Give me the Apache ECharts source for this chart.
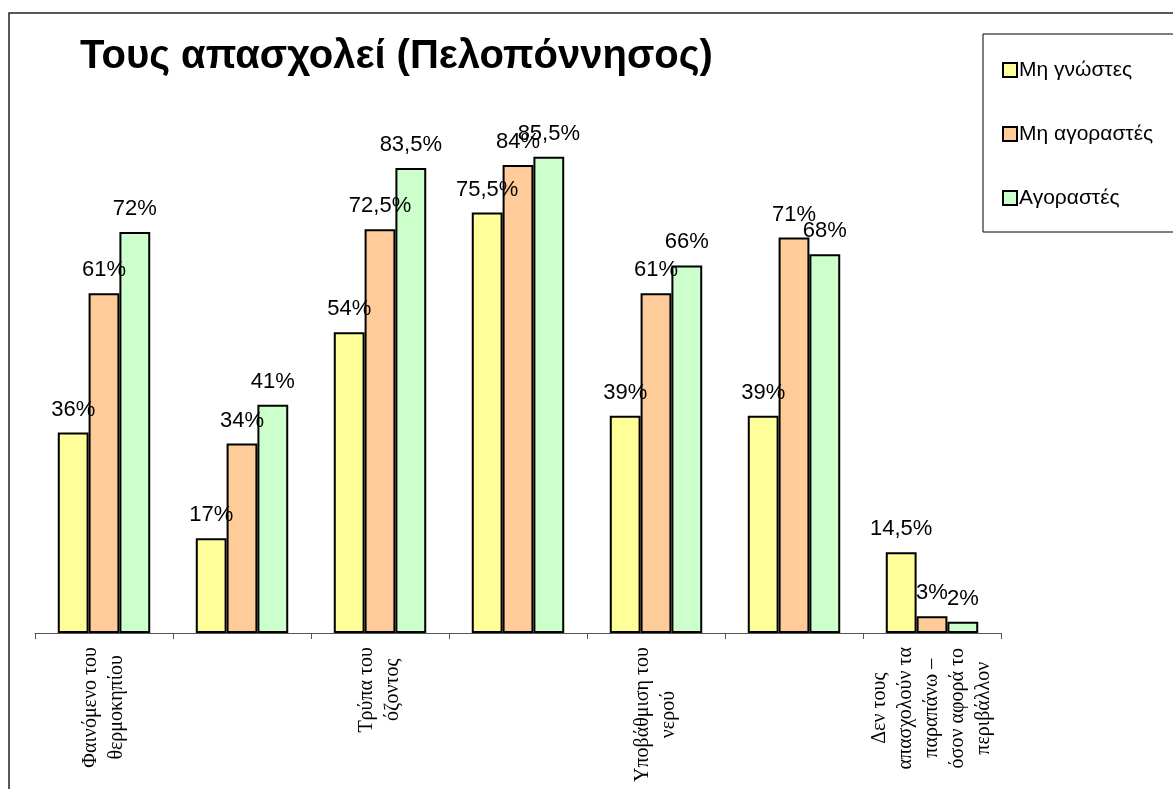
<!DOCTYPE html>
<html>
<head>
<meta charset="utf-8">
<title>Τους απασχολεί (Πελοπόννησος)</title>
<script src="https://cdn.jsdelivr.net/npm/echarts@6/dist/echarts.min.js"></script>
<style>
  html, body { margin: 0; padding: 0; background: #fff; }
  #chart { width: 1173px; height: 789px; }
</style>
</head>
<body>
<div id="chart"></div>
<script>
// categories (only every other label is shown in the original, the rest are unreadable)
const categories = [
  'Φαινόμενο του\nθερμοκηπίου',
  '',
  'Τρύπα του\nόζοντος',
  ' ',
  'Υποβάθμιση του\nνερού',
  '  ',
  'Δεν τους\nαπασχολούν τα\nπαραπάνω –\nόσον αφορά το\nπεριβάλλον'
];

const seriesNames = ['Μη γνώστες', 'Μη αγοραστές', 'Αγοραστές'];
const notAware = [36, 17, 54, 75.5, 39, 39, 14.5];
const nonBuyers = [61, 34, 72.5, 84, 61, 71, 3];
const buyers = [72, 41, 83.5, 85.5, 66, 68, 2];

const colors = ['#FFFF99', '#FFCC99', '#CCFFCC'];

const chart = echarts.init(document.getElementById('chart'));

const makeSeries = (name, data, color) => ({
  name: name,
  type: 'bar',
  data: data,
  barGap: '0%',
  barCategoryGap: '33%',
  itemStyle: {
    color: color,
    borderColor: '#000',
    borderWidth: 2
  },
  label: {
    show: true,
    position: 'top',
    distance: 12,
    color: '#000',
    fontFamily: 'Liberation Sans, Arial, sans-serif',
    fontSize: 22,
    formatter: (p) => String(p.value).replace('.', ',') + '%'
  }
});

const option = {
  backgroundColor: '#fff',
  animation: false,
  title: {
    text: 'Τους απασχολεί (Πελοπόννησος)',
    left: 80,
    top: 37,
    padding: 0,
    textStyle: {
      fontFamily: 'Liberation Sans, Arial, sans-serif',
      fontWeight: 'bold',
      fontSize: 40,
      color: '#000'
    }
  },
  legend: {
    orient: 'vertical',
    left: 983,
    top: 34,
    padding: [24, 40, 22, 19],
    itemGap: 40,
    itemWidth: 14,
    itemHeight: 14,
    icon: 'rect',
    borderColor: '#000',
    borderWidth: 1,
    data: seriesNames,
    textStyle: {
      fontFamily: 'Liberation Sans, Arial, sans-serif',
      fontSize: 21,
      lineHeight: 24,
      color: '#000',
      padding: [0, 0, 0, -3]
    }
  },
  grid: {
    left: 35,
    right: 172,
    top: 76,
    bottom: 156
  },
  xAxis: {
    type: 'category',
    data: categories,
    axisLine: { lineStyle: { color: '#555', width: 1 } },
    axisTick: { show: true, interval: 0, length: 6, lineStyle: { color: '#555' } },
    axisLabel: {
      interval: 1,
      rotate: 90,
      margin: 14,
      formatter: (v) => v.split('\n').map(l => '{c|' + l + '}').join('\n'),
      rich: {
        c: {
          align: 'center',
          fontFamily: 'Liberation Serif, Times New Roman, serif',
          fontSize: 20,
          lineHeight: 26,
          color: '#000'
        }
      }
    }
  },
  yAxis: {
    type: 'value',
    min: 0,
    max: 100,
    show: false,
    splitLine: { show: false }
  },
  graphic: [
    {
      // outer chart frame
      type: 'rect',
      shape: { x: 9, y: 13, width: 1200, height: 800 },
      style: { fill: 'none', stroke: '#222', lineWidth: 1.5 },
      silent: true
    }
  ],
  series: [
    makeSeries(seriesNames[0], notAware, colors[0]),
    makeSeries(seriesNames[1], nonBuyers, colors[1]),
    makeSeries(seriesNames[2], buyers, colors[2])
  ]
};

chart.setOption(option);
</script>
</body>
</html>
